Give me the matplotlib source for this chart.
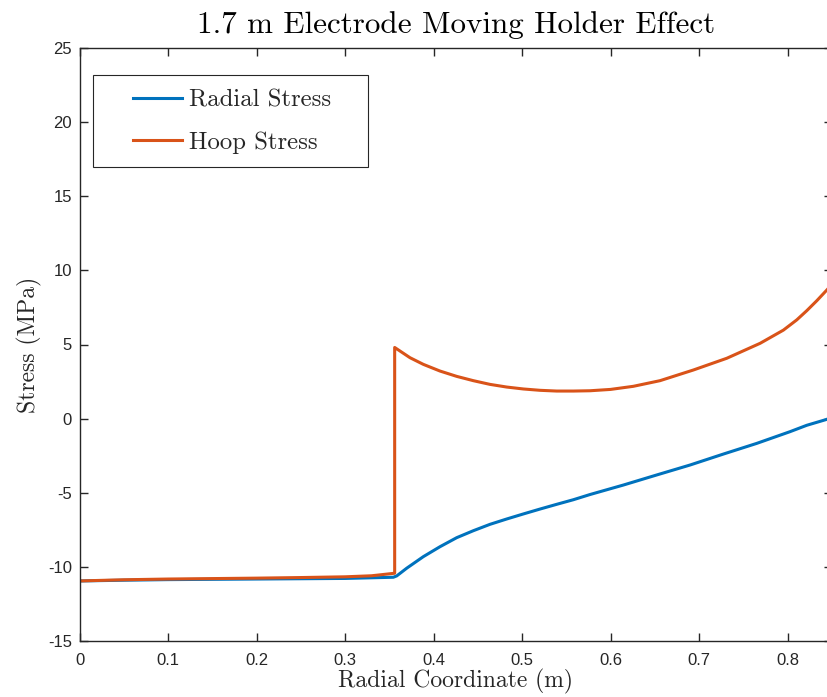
import matplotlib
matplotlib.use("Agg")
import matplotlib.pyplot as plt
from matplotlib.patches import Rectangle

# ---- data ----
radial_x = [0.0, 0.05, 0.10, 0.15, 0.20, 0.25, 0.30, 0.3546, 0.3584, 0.3697, 0.3885,
            0.4073, 0.4262, 0.445, 0.4638, 0.4827, 0.5015, 0.5203, 0.5392, 0.558,
            0.5768, 0.6145, 0.6522, 0.6898, 0.7275, 0.7652, 0.8028, 0.8217, 0.8443, 0.85]
radial_y = [-10.95, -10.90, -10.86, -10.84, -10.82, -10.80, -10.78, -10.70, -10.61, -10.09, -9.31,
            -8.64, -8.03, -7.56, -7.13, -6.77, -6.43, -6.10, -5.78, -5.47,
            -5.12, -4.48, -3.80, -3.13, -2.39, -1.67, -0.88, -0.45, -0.05, 0.10]

hoop_x = [0.0, 0.05, 0.10, 0.15, 0.20, 0.25, 0.30, 0.33, 0.3561, 0.3561, 0.3734, 0.3885,
          0.4073, 0.4262, 0.445, 0.4638, 0.4827, 0.5015, 0.5203, 0.5392, 0.558,
          0.5768, 0.60, 0.6258, 0.6559, 0.6936, 0.7313, 0.769, 0.7953, 0.8104,
          0.8217, 0.8330, 0.8443, 0.85]
hoop_y = [-10.95, -10.87, -10.82, -10.79, -10.76, -10.72, -10.67, -10.60, -10.43, 4.80, 4.11, 3.66,
          3.21, 2.85, 2.56, 2.31, 2.13, 2.00, 1.91, 1.86, 1.86,
          1.88, 1.97, 2.18, 2.56, 3.28, 4.07, 5.08, 5.97, 6.66,
          7.28, 7.95, 8.67, 9.05]

series_labels = ["Radial Stress", "Hoop Stress"]
x_ticks = [0, 0.1, 0.2, 0.3, 0.4, 0.5, 0.6, 0.7, 0.8]
x_tick_labels = ["0", "0.1", "0.2", "0.3", "0.4", "0.5", "0.6", "0.7", "0.8"]
y_ticks = [-15, -10, -5, 0, 5, 10, 15, 20, 25]
y_tick_labels = ["-15", "-10", "-5", "0", "5", "10", "15", "20", "25"]

title_text = "1.7 m Electrode Moving Holder Effect"
xlabel_text = "Radial Coordinate (m)"
ylabel_text = "Stress (MPa)"

# ---- style ----
plt.rcParams["axes.unicode_minus"] = False
SERIF = ["cmr10", "DejaVu Serif"]
SANS = ["Liberation Sans", "DejaVu Sans"]
AXC = "#262626"
BLUE = "#0072BD"
ORANGE = "#D95319"

fig = plt.figure(figsize=(8.27, 6.97), dpi=100)
W, H = 827, 697
ax_left, ax_right, ax_top, ax_bottom = 79.5, 831.8, 48, 641
ax = fig.add_axes([ax_left / W, (H - ax_bottom) / H,
                   (ax_right - ax_left) / W, (ax_bottom - ax_top) / H])

l1, = ax.plot(radial_x, radial_y, color=BLUE, lw=2.2)
l2, = ax.plot(hoop_x, hoop_y, color=ORANGE, lw=2.2)

ax.set_xlim(0, 0.85)
ax.set_ylim(-15, 25)
ax.set_xticks(x_ticks)
ax.set_xticklabels(x_tick_labels, family=SANS, fontsize=12, color=AXC)
ax.set_yticks(y_ticks)
ax.set_yticklabels(y_tick_labels, family=SANS, fontsize=12, color=AXC)
ax.tick_params(axis="both", direction="in", length=5.5, width=1.0, color=AXC,
               top=True, right=True)
ax.tick_params(axis="x", pad=8.5)
ax.tick_params(axis="y", pad=5.5)
for s in ax.spines.values():
    s.set_color(AXC)
    s.set_linewidth(1.0)

ax.set_title(title_text, family=SERIF, fontsize=22.4, color="black", pad=10.5)
ax.set_xlabel(xlabel_text, family=SERIF, fontsize=17, color=AXC, labelpad=1)
ax.set_ylabel(ylabel_text, family=SERIF, fontsize=17, color=AXC, labelpad=4)

# legend
aw = ax_right - ax_left
ah = ax_bottom - ax_top
leg = ax.legend([l1, l2], series_labels, loc="center left",
                bbox_to_anchor=((133 - ax_left) / aw, (ax_bottom - 121.5) / ah),
                frameon=False, borderpad=0, borderaxespad=0,
                prop={"family": SERIF, "size": 17.8},
                handlelength=2.0, handletextpad=0.25, labelspacing=0.78)
for t in leg.get_texts():
    t.set_color(AXC)
frame = Rectangle(((92.7 - ax_left) / aw, (ax_bottom - 166.7) / ah),
                  (368.3 - 92.7) / aw, (166.7 - 75) / ah,
                  transform=ax.transAxes, facecolor="white", edgecolor=AXC,
                  linewidth=0.8, zorder=4)
ax.add_patch(frame)
leg.set_zorder(5)

fig.savefig("out.png", dpi=100)
